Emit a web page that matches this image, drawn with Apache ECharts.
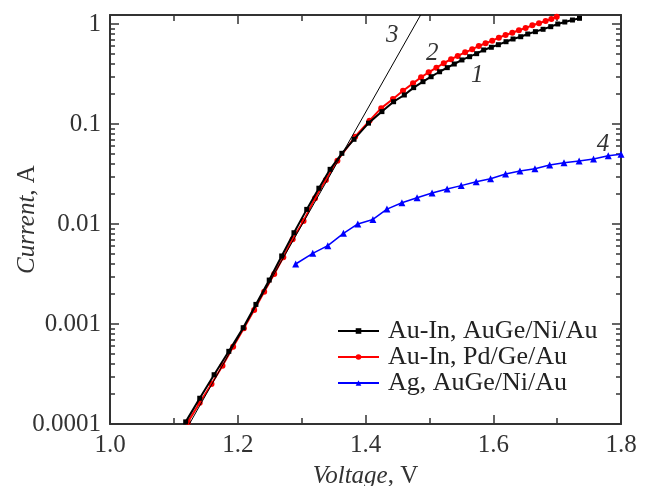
<!DOCTYPE html>
<html>
<head>
<meta charset="utf-8">
<script src="https://cdn.jsdelivr.net/npm/echarts@6/dist/echarts.min.js"></script>
<style>
  html, body { margin: 0; padding: 0; background: #fff; }
  #chart { width: 648px; height: 486px; }
</style>
</head>
<body>
<div id="chart"></div>
<script>
// curve 1: Au-In, AuGe/Ni/Au
var volt1 = [1.1185, 1.1405, 1.163, 1.186, 1.2085, 1.2284, 1.2493, 1.2688, 1.288, 1.308,
	1.327, 1.3446, 1.363, 1.382, 1.4047, 1.4257, 1.444, 1.4608, 1.4754, 1.490,
	1.5027, 1.516, 1.528, 1.539, 1.551, 1.563, 1.574, 1.585, 1.597, 1.608,
	1.620, 1.631, 1.643, 1.654, 1.666, 1.678, 1.690, 1.701, 1.712, 1.724, 1.735];
var curr1 = [1.05e-4, 1.81e-4, 3.11e-4, 5.33e-4, 9.18e-4, 1.57e-3, 2.75e-3, 4.79e-3, 8.18e-3, 0.0140,
	0.0228, 0.0352, 0.0509, 0.0703, 0.102, 0.133, 0.167, 0.195, 0.231, 0.265,
	0.297, 0.333, 0.366, 0.398, 0.437, 0.471, 0.505, 0.550, 0.585, 0.621,
	0.665, 0.708, 0.746, 0.794, 0.838, 0.885, 0.940, 1.00, 1.047, 1.096, 1.14];

// curve 2: Au-In, Pd/Ge/Au
var volt2 = [1.1221, 1.1405, 1.1589, 1.1761, 1.1928, 1.2096, 1.2257, 1.2414, 1.2571, 1.2713,
	1.286, 1.303, 1.321, 1.338, 1.356, 1.3838, 1.4063, 1.4246, 1.443, 1.4587,
	1.4744, 1.487, 1.4989, 1.511, 1.5225, 1.534, 1.5444, 1.556, 1.567, 1.5774,
	1.588, 1.5984, 1.6088, 1.6193, 1.6298, 1.6402, 1.6507, 1.6612, 1.6716, 1.682, 1.691, 1.6994];
var curr2 = [1.05e-4, 1.63e-4, 2.51e-4, 3.83e-4, 5.93e-4, 9.06e-4, 1.38e-3, 2.10e-3, 3.16e-3, 4.65e-3,
	7.03e-3, 0.0107, 0.0181, 0.0275, 0.0430, 0.0746, 0.108, 0.144, 0.178, 0.215,
	0.255, 0.293, 0.329, 0.366, 0.405, 0.444, 0.479, 0.521, 0.558, 0.603,
	0.641, 0.681, 0.730, 0.776, 0.818, 0.865, 0.912, 0.970, 1.016, 1.072, 1.122, 1.183];

// curve 4: Ag, AuGe/Ni/Au
var volt4 = [1.2907, 1.3174, 1.341, 1.3655, 1.388, 1.4116, 1.4336, 1.457, 1.4807, 1.5042,
	1.5278, 1.5498, 1.5733, 1.5958, 1.6193, 1.6418, 1.6653, 1.6884, 1.7108, 1.7344,
	1.757, 1.780, 1.80];
var curr4 = [0.00398, 0.00509, 0.00607, 0.00807, 0.0100, 0.0111, 0.0141, 0.0163, 0.0183, 0.0204,
	0.0224, 0.0242, 0.0265, 0.0284, 0.0316, 0.0339, 0.0357, 0.0389, 0.0410, 0.0427,
	0.0447, 0.0482, 0.0498];

// line 3: exponential fit
var volt3 = [1.1243, 1.4863];
var curr3 = [1.0e-4, 1.23];

var names = ['Au-In, AuGe/Ni/Au', 'Au-In, Pd/Ge/Au', 'Ag, AuGe/Ni/Au'];
var tagText = ['1', '2', '3', '4'];
var tagVolt = [1.575, 1.5045, 1.442, 1.772];
var tagCurr = [0.309, 0.513, 0.776, 0.063];

var yMajor = [0.0001, 0.001, 0.01, 0.1, 1];

var yMinor = [];
yMajor.forEach(function (d) {
	if (d >= 1) return;
	for (var k = 2; k <= 9; k++) yMinor.push(+(d * k).toPrecision(2));
});

function pairs(xs, ys) {
	return xs.map(function (x, i) { return [x, ys[i]]; });
}

var FONT = 'Liberation Serif';
var AXIS = '#333';

var chart = echarts.init(document.getElementById('chart'));

function yAxis(pos, ticks, len, showLine, showLabel) {
	return {
		type: 'log',
		logBase: 10,
		position: pos,
		min: 0.0001,
		max: 1.23,
		axisLine: { show: showLine, lineStyle: { color: AXIS, width: 2 } },
		axisTick: { show: true, inside: true, length: len, customValues: ticks,
			lineStyle: { color: AXIS, width: 1.5 } },
		axisLabel: { show: showLabel, customValues: yMajor, margin: 9,
			fontFamily: FONT, fontSize: 25, color: '#333',
			formatter: function (v) { return String(Number((+v).toPrecision(3))); } },
		splitLine: { show: false },
		minorTick: { show: false }
	};
}

function xAxis(pos, showLabel) {
	return {
		type: 'value',
		position: pos,
		min: 1.0,
		max: 1.8,
		interval: 0.2,
		axisLine: { show: true, onZero: false, lineStyle: { color: AXIS, width: 2 } },
		axisTick: { show: true, inside: true, length: 9, lineStyle: { color: AXIS, width: 1.5 } },
		minorTick: { show: true, splitNumber: 2, length: 6, lineStyle: { color: AXIS, width: 1.5 } },
		axisLabel: { show: showLabel, margin: 9, fontFamily: FONT, fontSize: 25, color: '#333',
			formatter: function (v) { return v.toFixed(1); } },
		splitLine: { show: false }
	};
}

var bottomX = xAxis('bottom', true);
bottomX.name = '{i|Voltage}, V';
bottomX.nameLocation = 'middle';
bottomX.nameGap = 40;
bottomX.nameMoveOverlap = false;
bottomX.nameTextStyle = { fontFamily: FONT, fontSize: 25, color: '#333',
	rich: { i: { fontFamily: FONT, fontSize: 25, fontStyle: 'italic', color: '#333' } } };

var leftY = yAxis('left', yMajor, 9, true, true);
leftY.name = '{i|Current}, A';
leftY.nameLocation = 'middle';
leftY.nameGap = 70;
leftY.nameRotate = 90;
leftY.nameMoveOverlap = false;
leftY.nameTextStyle = { fontFamily: FONT, fontSize: 25, color: '#333',
	rich: { i: { fontFamily: FONT, fontSize: 25, fontStyle: 'italic', color: '#333' } } };

var option = {
	animation: false,
	backgroundColor: '#fff',
	textStyle: { fontFamily: FONT },
	grid: { left: 110, right: 27, top: 15, bottom: 62, containLabel: false, outerBoundsMode: 'none' },
	xAxis: [bottomX, xAxis('top', false)],
	yAxis: [
		leftY,
		yAxis('left', yMinor, 5, false, false),
		yAxis('right', yMajor, 9, true, false),
		yAxis('right', yMinor, 5, false, false)
	],
	legend: {
		orient: 'vertical',
		left: 332,
		top: 313,
		itemWidth: 41,
		itemHeight: 7,
		itemGap: 0,
		data: names,
		textStyle: { fontFamily: FONT, fontSize: 26, lineHeight: 26, color: '#222',
			padding: [0, 0, 0, 4] }
	},
	series: [{
		name: names[0],
		type: 'line',
		data: pairs(volt1, curr1),
		symbol: 'rect',
		symbolSize: 5,
		color: '#000',
		lineStyle: { width: 2, color: '#000' },
		z: 4
	}, {
		name: names[1],
		type: 'line',
		data: pairs(volt2, curr2),
		symbol: 'circle',
		symbolSize: 6,
		color: '#ff0000',
		lineStyle: { width: 2, color: '#ff0000' },
		z: 3
	}, {
		name: names[2],
		type: 'line',
		data: pairs(volt4, curr4),
		symbol: 'triangle',
		symbolSize: 7,
		color: '#0000ff',
		lineStyle: { width: 1.5, color: '#0000ff' },
		z: 3
	}, {
		name: 'fit',
		type: 'line',
		data: pairs(volt3, curr3),
		symbol: 'none',
		color: '#000',
		lineStyle: { width: 1, color: '#000' },
		z: 5,
		markPoint: {
			symbol: 'circle',
			symbolSize: 0,
			data: tagText.map(function (t, i) {
				return { coord: [tagVolt[i], tagCurr[i]], value: t };
			}),
			label: { show: true, position: 'inside', formatter: '{c}',
				fontFamily: FONT, fontSize: 25, fontStyle: 'italic', color: '#333' }
		}
	}]
};
chart.setOption(option);
</script>
</body>
</html>
